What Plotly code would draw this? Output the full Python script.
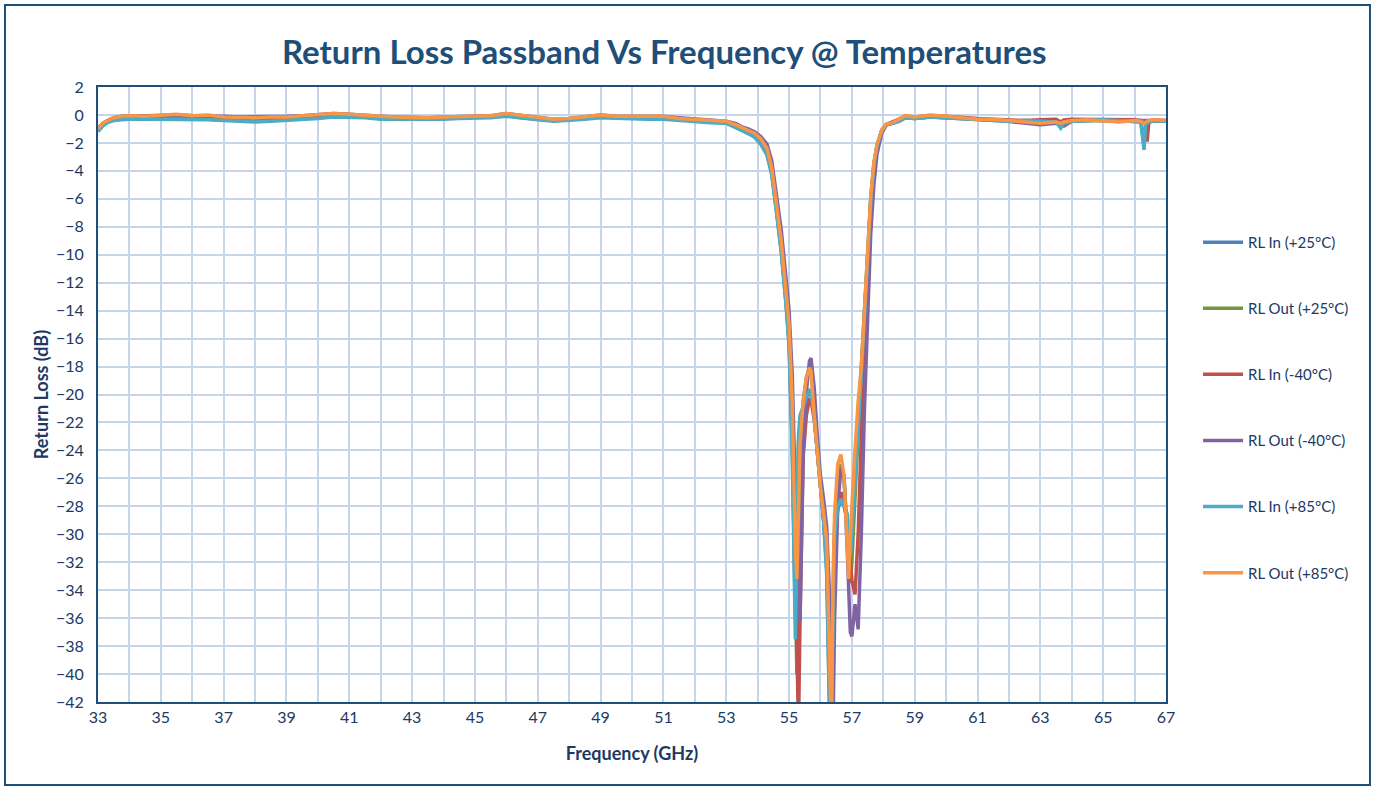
import plotly.graph_objects as go

# ---------------- data ----------------
FREQ_LOW = [33.0, 33.15, 33.3, 33.5, 33.75, 34.0, 34.5, 35.0, 35.5, 36.0, 36.5, 37.0, 37.5, 38.0,
            38.5, 39.0, 39.5, 40.0, 40.5, 41.0, 41.5, 42.0, 42.5, 43.0, 43.5, 44.0, 44.5, 45.0,
            45.5, 46.0, 46.5, 47.0, 47.5, 48.0, 48.5, 49.0, 49.5, 50.0, 50.5, 51.0, 51.5, 52.0,
            52.5, 53.0]
FREQ_NOTCH = [53.3, 53.5, 53.7, 53.9, 54.1, 54.3, 54.45, 54.6, 54.75, 54.9, 55.0, 55.1, 55.2, 55.25,
              55.3, 55.35, 55.45, 55.55, 55.65, 55.7, 55.8, 55.9, 56.0, 56.1, 56.2, 56.3, 56.35,
              56.4, 56.45, 56.55, 56.65, 56.75, 56.85, 56.9, 56.95, 57.0, 57.1, 57.2, 57.3, 57.4,
              57.5, 57.6, 57.7, 57.8, 57.95, 58.1, 58.3]
FREQ_HIGH = [58.5, 58.7, 59.0, 59.5, 60.0, 60.5, 61.0, 61.5, 62.0, 62.5, 63.0, 63.5, 63.65, 63.75,
             64.0, 64.5, 65.0, 65.5, 66.0, 66.2, 66.3, 66.35, 66.4, 66.45, 66.55, 66.7, 67.0]
FREQ = FREQ_LOW + FREQ_NOTCH + FREQ_HIGH

RL_IN_25 = [
    -1.15, -0.75, -0.5, -0.35, -0.3, -0.25, -0.25, -0.25, -0.25, -0.25, -0.3, -0.35, -0.4, -0.45,
    -0.4, -0.35, -0.3, -0.2, -0.1, -0.1, -0.15, -0.25, -0.25, -0.3, -0.3, -0.25, -0.2, -0.2,
    -0.15, -0.05, -0.2, -0.3, -0.4, -0.35, -0.25, -0.15, -0.2, -0.25, -0.25, -0.25, -0.35, -0.4,
    -0.5, -0.55,
    -0.9, -1.1, -1.3, -1.55, -2.0, -2.8, -4.2, -6.8, -9.7, -13.4, -16.3, -23.5, -36.0, -31.0,
    -23.5, -21.8, -21.0, -20.3, -19.8, -19.9, -21.6, -24.2, -26.6, -29.0, -32.5, -44.0, -43.0,
    -35.0, -30.5, -28.2, -27.6, -28.0, -29.0, -30.8, -31.2, -29.5, -26.0, -22.0, -18.3, -14.3,
    -9.8, -6.1, -3.6, -2.2, -1.1, -0.7, -0.6,
    -0.45, -0.2, -0.25, -0.15, -0.2, -0.3, -0.35, -0.4, -0.45, -0.4, -0.45, -0.5, -0.8, -0.55,
    -0.45, -0.4, -0.35, -0.4, -0.45, -0.5, -2.2, -0.8, -0.5, -0.5, -0.45, -0.4, -0.45]

RL_OUT_25 = [
    -1.1, -0.7, -0.5, -0.35, -0.3, -0.25, -0.3, -0.25, -0.2, -0.25, -0.3, -0.35, -0.4, -0.45,
    -0.4, -0.35, -0.3, -0.2, -0.1, -0.1, -0.15, -0.25, -0.3, -0.3, -0.3, -0.25, -0.2, -0.2,
    -0.15, -0.05, -0.2, -0.3, -0.4, -0.35, -0.25, -0.15, -0.2, -0.25, -0.25, -0.25, -0.35, -0.4,
    -0.5, -0.55,
    -0.85, -1.05, -1.25, -1.5, -1.95, -2.7, -4.1, -6.6, -9.5, -13.2, -16.0, -22.5, -33.0, -40.0,
    -30.0, -24.0, -20.5, -18.8, -18.0, -18.2, -21.0, -24.2, -26.5, -28.5, -31.0, -42.0, -44.0,
    -36.0, -29.5, -26.0, -25.0, -26.0, -29.5, -32.0, -33.5, -32.0, -27.0, -22.0, -18.0, -14.0,
    -9.5, -6.0, -3.5, -2.2, -1.1, -0.65, -0.55,
    -0.45, -0.2, -0.25, -0.15, -0.2, -0.3, -0.35, -0.35, -0.4, -0.45, -0.5, -0.5, -0.7, -0.55,
    -0.45, -0.4, -0.4, -0.4, -0.45, -0.45, -0.5, -0.5, -0.5, -0.45, -0.45, -0.4, -0.45]

RL_IN_M40 = [
    -1.0, -0.65, -0.45, -0.25, -0.15, -0.1, -0.1, -0.05, 0.0, -0.05, -0.05, -0.15, -0.2, -0.2,
    -0.2, -0.15, -0.1, -0.05, 0.05, 0.0, -0.1, -0.15, -0.2, -0.2, -0.25, -0.2, -0.15, -0.1,
    -0.1, 0.05, -0.1, -0.25, -0.35, -0.3, -0.2, -0.05, -0.15, -0.15, -0.2, -0.15, -0.3, -0.35,
    -0.45, -0.5,
    -0.7, -0.9, -1.1, -1.35, -1.75, -2.4, -3.7, -6.2, -9.0, -12.6, -15.2, -21.0, -30.0, -38.0,
    -44.0, -36.0, -24.5, -21.5, -20.3, -20.4, -21.8, -24.0, -26.5, -28.8, -31.5, -42.0, -44.0,
    -38.0, -31.5, -28.0, -27.0, -27.5, -29.0, -30.5, -32.0, -33.3, -34.3, -30.0, -23.0, -17.0,
    -11.5, -7.0, -4.0, -2.4, -1.2, -0.7, -0.5,
    -0.35, -0.1, -0.15, -0.05, -0.1, -0.2, -0.25, -0.3, -0.35, -0.4, -0.35, -0.3, -0.5, -0.35,
    -0.3, -0.3, -0.3, -0.3, -0.35, -0.4, -0.45, -0.5, -1.9, -0.6, -0.4, -0.4, -0.4]

RL_OUT_M40 = [
    -0.95, -0.6, -0.4, -0.2, -0.1, -0.05, -0.05, 0.0, 0.0, -0.05, -0.05, -0.1, -0.15, -0.15,
    -0.15, -0.1, -0.05, 0.0, 0.1, 0.05, -0.05, -0.1, -0.15, -0.2, -0.2, -0.15, -0.1, -0.05,
    -0.05, 0.1, -0.05, -0.2, -0.3, -0.25, -0.15, 0.0, -0.1, -0.1, -0.15, -0.1, -0.2, -0.3,
    -0.4, -0.45,
    -0.6, -0.85, -1.0, -1.2, -1.55, -2.1, -3.3, -5.6, -8.2, -11.6, -14.0, -18.5, -26.0, -31.0,
    -35.5, -36.2, -24.0, -19.8, -17.6, -17.4, -19.5, -23.0, -25.8, -27.5, -29.5, -35.0, -41.0,
    -44.0, -36.0, -28.0, -25.3, -25.8, -31.0, -34.5, -37.0, -37.3, -35.0, -36.8, -30.0, -21.0,
    -14.2, -8.5, -5.0, -2.8, -1.3, -0.7, -0.5,
    -0.35, -0.1, -0.15, -0.05, -0.15, -0.25, -0.3, -0.35, -0.45, -0.55, -0.7, -0.6, -0.75, -0.8,
    -0.45, -0.35, -0.4, -0.45, -0.4, -0.4, -0.45, -0.45, -0.45, -0.45, -0.4, -0.4, -0.4]

RL_IN_85 = [
    -1.2, -0.8, -0.55, -0.4, -0.35, -0.3, -0.3, -0.3, -0.3, -0.3, -0.35, -0.4, -0.45, -0.5,
    -0.45, -0.4, -0.35, -0.25, -0.15, -0.15, -0.2, -0.3, -0.3, -0.35, -0.35, -0.3, -0.25, -0.25,
    -0.2, -0.1, -0.25, -0.35, -0.45, -0.4, -0.3, -0.2, -0.25, -0.3, -0.3, -0.3, -0.4, -0.45,
    -0.55, -0.6,
    -0.9, -1.1, -1.3, -1.6, -2.1, -2.9, -4.3, -6.9, -9.8, -13.5, -16.5, -24.0, -37.5, -30.0,
    -23.0, -21.5, -20.8, -20.2, -19.7, -19.8, -21.5, -24.0, -26.5, -29.0, -33.0, -44.0, -42.0,
    -34.0, -30.0, -28.0, -27.5, -28.0, -28.5, -30.5, -31.5, -30.0, -26.5, -22.5, -18.5, -14.5,
    -10.0, -6.2, -3.6, -2.2, -1.1, -0.7, -0.6,
    -0.45, -0.2, -0.25, -0.15, -0.2, -0.3, -0.35, -0.4, -0.45, -0.4, -0.45, -0.5, -0.95, -0.6,
    -0.45, -0.4, -0.35, -0.4, -0.45, -0.5, -2.5, -0.7, -0.6, -0.5, -0.45, -0.4, -0.45]

RL_OUT_85 = [
    -1.0, -0.6, -0.4, -0.2, -0.1, -0.05, -0.1, -0.05, 0.05, -0.05, 0.0, -0.15, -0.2, -0.2,
    -0.15, -0.15, -0.05, 0.0, 0.1, 0.05, -0.05, -0.1, -0.15, -0.2, -0.2, -0.15, -0.1, -0.05,
    -0.05, 0.1, -0.05, -0.2, -0.3, -0.25, -0.15, 0.0, -0.1, -0.1, -0.15, -0.1, -0.25, -0.3,
    -0.4, -0.45,
    -0.7, -0.9, -1.05, -1.3, -1.7, -2.4, -3.8, -6.3, -9.0, -12.6, -15.0, -20.5, -31.0, -33.2,
    -28.0, -23.5, -20.5, -18.8, -18.1, -18.3, -21.5, -24.5, -26.7, -28.5, -30.5, -40.0, -44.0,
    -33.0, -28.5, -25.0, -24.3, -25.8, -30.0, -33.2, -30.0, -27.8, -24.0, -20.5, -18.0, -14.0,
    -9.5, -5.8, -3.4, -2.1, -1.1, -0.65, -0.55,
    -0.3, -0.05, -0.15, 0.0, -0.1, -0.2, -0.3, -0.3, -0.4, -0.5, -0.6, -0.5, -0.6, -0.5,
    -0.4, -0.35, -0.45, -0.5, -0.4, -0.45, -0.6, -0.5, -0.45, -0.4, -0.35, -0.35, -0.4]

SERIES_NAMES = ["RL In (+25°C)", "RL Out (+25°C)", "RL In (-40°C)",
                "RL Out (-40°C)", "RL In (+85°C)", "RL Out (+85°C)"]
SERIES_VALUES = [RL_IN_25, RL_OUT_25, RL_IN_M40, RL_OUT_M40, RL_IN_85, RL_OUT_85]
SERIES_COLORS = ["#4F81BD", "#77933C", "#C0504D", "#8064A2", "#4BACC6", "#F79646"]

X_TICKS = list(range(33, 68, 2))
Y_TICKS = list(range(-42, 3, 2))

# ---------------- figure ----------------
NAVY = "#1F4E79"
TXT = "#203864"
GRID = "#C5D5EA"
FONT = "Lato"

fig = go.Figure()
for name, vals, col in zip(SERIES_NAMES, SERIES_VALUES, SERIES_COLORS):
    fig.add_trace(go.Scatter(
        x=FREQ, y=vals, mode="lines", name=name, legendgroup=name,
        line=dict(color=col, width=3.5), hoverinfo="x+y+name"))

fig.update_layout(
    width=1376, height=789,
    margin=dict(l=98, r=210, t=87, b=87),
    paper_bgcolor="white", plot_bgcolor="white",
    font=dict(family=FONT, color=TXT, size=16),
    showlegend=True,
    legend=dict(x=1.030, y=0.479, xanchor="left", yanchor="middle",
                font=dict(family=FONT, size=15, color=TXT),
                tracegroupgap=43.6, itemwidth=40, bgcolor="rgba(0,0,0,0)"),
    xaxis=dict(range=[33, 67], tickvals=X_TICKS, ticks="", showgrid=True,
               gridcolor=GRID, gridwidth=1.5,
               minor=dict(dtick=1, tick0=33, showgrid=True, gridcolor=GRID, gridwidth=1.5),
               showline=True, linecolor=NAVY, linewidth=2, mirror=True, zeroline=False,
               tickfont=dict(family=FONT, size=16, color=TXT),
               title=dict(text="<b>Frequency (GHz)</b>", standoff=22,
                          font=dict(family=FONT, size=18, color=TXT))),
    yaxis=dict(range=[-42, 2], tickvals=Y_TICKS, ticks="", showgrid=True,
               gridcolor=GRID, gridwidth=1.5, ticklabelstandoff=9,
               showline=True, linecolor=NAVY, linewidth=2, mirror=True, zeroline=False,
               tickfont=dict(family=FONT, size=16, color=TXT),
               title=dict(text="<b>Return Loss (dB)</b>", standoff=3,
                          font=dict(family=FONT, size=18, color=TXT))),
    annotations=[dict(text="<b>Return Loss Passband Vs Frequency @ Temperatures</b>",
                      xref="paper", yref="paper", x=0.53, y=1.0585,
                      xanchor="center", yanchor="middle", showarrow=False,
                      font=dict(family=FONT, size=33, color=NAVY))],
    shapes=[dict(type="rect", xref="paper", yref="paper",
                 x0=-0.0871, x1=1.191, y0=-0.135, y1=1.1333,
                 line=dict(color=NAVY, width=2), fillcolor="rgba(0,0,0,0)", layer="below")],
)

fig.write_html("out.html", config={"displayModeBar": False},
               post_script="document.body.style.margin='0';")
